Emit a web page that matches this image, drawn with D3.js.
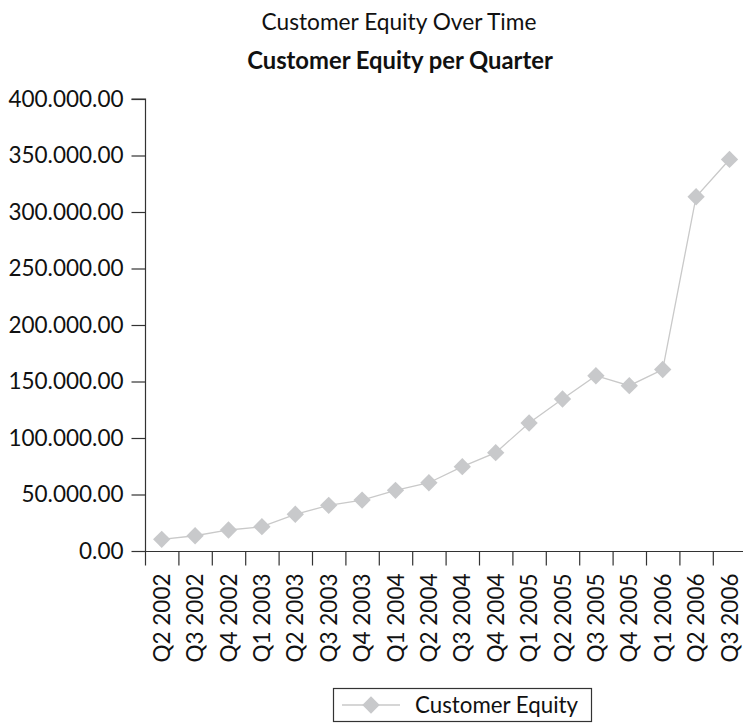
<!DOCTYPE html>
<html>
<head>
<meta charset="utf-8">
<script src="https://d3js.org/d3.v7.min.js"></script>
<style>
  html, body { margin: 0; padding: 0; background: #fff; }
  svg { display: block; }
  text { font-family: Lato, "Open Sans", sans-serif; fill: #111; }
</style>
</head>
<body>
<script>
const categories = ["Q2 2002","Q3 2002","Q4 2002","Q1 2003","Q2 2003","Q3 2003","Q4 2003",
  "Q1 2004","Q2 2004","Q3 2004","Q4 2004","Q1 2005","Q2 2005","Q3 2005","Q4 2005",
  "Q1 2006","Q2 2006","Q3 2006"];
const customerEquity = [10300, 13500, 18600, 21500, 32500, 40400, 45100, 53700, 60400,
  74600, 87000, 113300, 134500, 155100, 146300, 160600, 313500, 346500];
const yTicks = [0, 50000, 100000, 150000, 200000, 250000, 300000, 350000, 400000];
const chartTitle = "Customer Equity Over Time";
const chartSubtitle = "Customer Equity per Quarter";
const seriesName = "Customer Equity";

const W = 743, H = 727;
const margin = { left: 145, top: 99, bottom: 551 };
const bandW = 33.4;

const svg = d3.select("body").append("svg").attr("width", W).attr("height", H);

const x = d3.scaleBand().domain(categories)
  .range([margin.left, margin.left + bandW * categories.length]).padding(0);
const y = d3.scaleLinear().domain([0, 400000]).range([margin.bottom, margin.top]);

const fmt = v => d3.format(",.2f")(v).replace(/,/g, ".");

// titles
svg.append("text").attr("x", 399).attr("y", 30).attr("text-anchor", "middle")
  .style("font-size", "22.7px").text(chartTitle);
svg.append("text").attr("x", 400).attr("y", 69).attr("text-anchor", "middle")
  .style("font-size", "23.8px").style("font-weight", "bold").text(chartSubtitle);

// y axis
const yAxis = d3.axisLeft(y).tickValues(yTicks).tickFormat(fmt).tickSize(14).tickPadding(8);
const gy = svg.append("g").attr("transform", `translate(${margin.left + 0.5},0)`).call(yAxis);
gy.select(".domain").attr("d", `M-14,${y(400000)}H0V${y(0)}`).attr("stroke", "#333").attr("stroke-width", 1.2);
gy.selectAll(".tick line").attr("stroke", "#333").attr("stroke-width", 1.2);
gy.selectAll(".tick text").style("font-size", "22.5px").style("font-family", "Lato, sans-serif").attr("fill", "#111");

// x axis
const gx = svg.append("g").attr("transform", `translate(0,${margin.bottom + 0.5})`);
gx.append("line").attr("x1", margin.left).attr("x2", W).attr("stroke", "#333").attr("stroke-width", 1.2);
gx.selectAll("line.tk").data(categories).join("line").attr("class", "tk")
  .attr("x1", d => x(d) + 0.5).attr("x2", d => x(d) + 0.5).attr("y1", 0).attr("y2", 14)
  .attr("stroke", "#333").attr("stroke-width", 1.2);
gx.selectAll("text.lbl").data(categories).join("text").attr("class", "lbl")
  .attr("transform", d => `translate(${x(d) + x.bandwidth() / 2},22) rotate(-90)`)
  .attr("text-anchor", "end").attr("dy", "0.36em")
  .style("font-size", "22.5px").text(d => d);

// line
const line = d3.line().x((d, i) => x(categories[i]) + x.bandwidth() / 2).y(d => y(d));
svg.append("path").datum(customerEquity).attr("d", line)
  .attr("fill", "none").attr("stroke", "#c9c9c9").attr("stroke-width", 1.3);

const diamond = d3.symbol(d3.symbolSquare, 150);
svg.selectAll("path.pt").data(customerEquity).join("path").attr("class", "pt")
  .attr("d", diamond)
  .attr("transform", (d, i) => `translate(${x(categories[i]) + x.bandwidth() / 2},${y(d)}) rotate(45)`)
  .attr("fill", "#c8c9cb");

// legend
const lg = svg.append("g");
lg.append("rect").attr("x", 333.5).attr("y", 688.5).attr("width", 258).attr("height", 33)
  .attr("fill", "#fff").attr("stroke", "#333").attr("stroke-width", 1.2);
lg.append("line").attr("x1", 342).attr("x2", 400).attr("y1", 705).attr("y2", 705)
  .attr("stroke", "#c9c9c9").attr("stroke-width", 1.3);
lg.append("path").attr("d", diamond).attr("transform", "translate(371,705) rotate(45)").attr("fill", "#c8c9cb");
lg.append("text").attr("x", 415).attr("y", 713).style("font-size", "22.3px").text(seriesName);
</script>
</body>
</html>
